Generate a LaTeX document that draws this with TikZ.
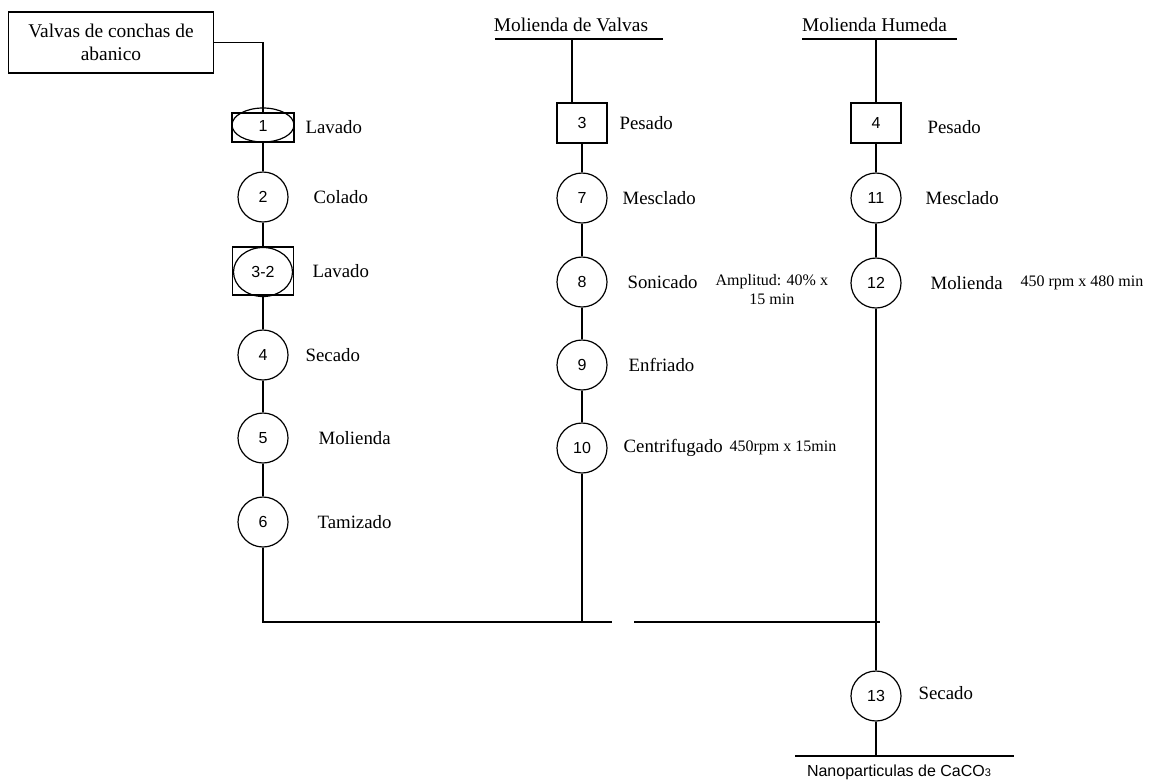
\documentclass[tikz,border=0pt]{standalone}
\usepackage{fontspec}
\setmainfont{Liberation Serif}
\newfontfamily\arialfont{Liberation Sans}
\usetikzlibrary{calc}

\tikzset{
  paso/.style={draw, circle, minimum size=25pt, inner sep=0pt, line width=0.6pt,
    font=\arialfont\fontsize{8}{9}\selectfont},
  caja/.style={draw, rectangle, inner sep=0pt, line width=0.6pt,
    font=\arialfont\fontsize{8}{9}\selectfont},
  etiq/.style={anchor=west, inner sep=0pt, font=\fontsize{9.4}{11.5}\selectfont},
  dato/.style={anchor=west, inner sep=0pt, align=center, font=\fontsize{8}{9.5}\selectfont},
}

\begin{document}
\begin{tikzpicture}[x=0.5pt, y=-0.5pt, line width=0.6pt]
\useasboundingbox (0,0) rectangle (1159,783);

% materia prima
\node[draw, minimum width=102.5pt, minimum height=30.5pt, align=center, inner sep=0pt,
  font=\fontsize{9.7}{11.5}\selectfont] (inicio) at (111,42.5) {Valvas de conchas de\\abanico};

% columna 1
\node[caja, minimum width=31pt, minimum height=14.5pt] (b1) at (263,127.5) {};
\draw (263,125) ellipse [x radius=15.5pt, y radius=8.5pt];
\node[font=\arialfont\fontsize{8}{9}\selectfont] at (263,126) {1};
\node[paso] (c2) at (263,197) {2};
\node[caja, minimum width=30.5pt, minimum height=24pt] (b32) at (263,271) {};
\draw (263,272) ellipse [x radius=14.75pt, y radius=12.25pt];
\node[font=\arialfont\fontsize{8}{9}\selectfont] at (263,272) {3-2};
\node[paso] (c4) at (263,355) {4};
\node[paso] (c5) at (263,438) {5};
\node[paso] (c6) at (263,522) {6};

\node[etiq] at (305,127) {Lavado};
\node[etiq] at (313,197) {Colado};
\node[etiq] at (312,271) {Lavado};
\node[etiq] at (305,355) {Secado};
\node[etiq] at (318,438) {Molienda};
\node[etiq] at (317,522) {Tamizado};

\draw (inicio.east) -| (b1.north);
\draw (b1) -- (c2) -- (b32) -- (c4) -- (c5) -- (c6);

% columna 2
\node[font=\fontsize{9.7}{11.5}\selectfont] (t2) at (571,25) {Molienda de Valvas};
\coordinate (h2a) at (495,39);
\coordinate (h2b) at (663,39);
\coordinate (v2) at (572,39);
\draw (h2a) -- (h2b);
\node[caja, minimum width=25pt, minimum height=20pt] (b3) at (582,123) {3};
\node[paso] (c7) at (582,198) {7};
\node[paso] (c8) at (582,282) {8};
\node[paso] (c9) at (582,365) {9};
\node[paso] (c10) at (582,448) {10};

\node[etiq] at (619,123) {Pesado};
\node[etiq] at (622,198) {Mesclado};
\node[etiq] at (627,282) {Sonicado};
\node[dato] at (715,290) {Amplitud: 40\% x\\15 min};
\node[etiq] at (628,365) {Enfriado};
\node[etiq] at (623,448) {Centrifugado};
\node[dato] at (729,448) {450rpm x 15min};

\draw (v2) -- (v2 |- b3.north);
\draw (b3) -- (c7) -- (c8) -- (c9) -- (c10);

% columna 3
\node[font=\fontsize{9.7}{11.5}\selectfont] (t3) at (874.5,25) {Molienda Humeda};
\coordinate (h3a) at (802,39);
\coordinate (h3b) at (957,39);
\coordinate (v3) at (876,39);
\draw (h3a) -- (h3b);
\node[caja, minimum width=25pt, minimum height=20pt] (b4) at (876,123) {4};
\node[paso] (c11) at (876,198) {11};
\node[paso] (c12) at (876,283) {12};
\node[paso] (c13) at (876,696) {13};

\node[etiq] at (927,127) {Pesado};
\node[etiq] at (925,198) {Mesclado};
\node[etiq] at (930,283) {Molienda};
\node[dato] at (1020,283) {450 rpm x 480 min};
\node[etiq] at (918,693) {Secado};

\draw (v3) -- (b4.north);
\draw (b4) -- (c11) -- (c12) -- (c13);

% union
\coordinate (j1) at (612,622);
\coordinate (j2) at (634,622);
\coordinate (j3) at (880,622);
\draw (c6.south) |- (j1);
\draw (c10.south) -- (c10 |- j1);
\draw (j2) -- (j3);

% producto
\coordinate (p1) at (795,756);
\coordinate (p2) at (1014,756);
\draw (p1) -- (p2);
\draw (c13.south) -- (c13 |- p1);
\node[font=\arialfont\fontsize{8}{9.5}\selectfont] (fin) at (899,772)
  {Nanoparticulas de CaCO\raisebox{-0.4pt}{\fontsize{5.5}{6}\selectfont 3}};
\end{tikzpicture}
\end{document}
